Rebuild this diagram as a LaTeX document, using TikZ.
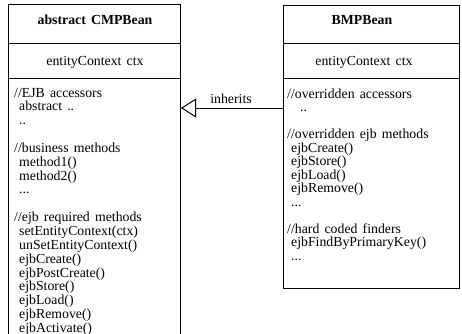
\documentclass[tikz,border=0pt]{standalone}
\usepackage{fontspec}
\setmainfont[WordSpace=1.5]{Liberation Serif}
\usetikzlibrary{arrows.meta}
\begin{document}
\begin{tikzpicture}[x=1pt,y=1pt,
  boxline/.style={line width=1pt,draw=black},
  txt/.style={anchor=base west,inner sep=0pt,font=\fontsize{13.8}{13.5}\selectfont},
  hdr/.style={inner sep=0pt,font=\fontsize{13.8}{13.5}\selectfont\bfseries},
  sub/.style={inner sep=0pt,font=\fontsize{13.8}{13.5}\selectfont}]
\useasboundingbox (0,0) rectangle (462,-333);
\clip (0,0) rectangle (462,-333);
\fill[white] (0,0) rectangle (462,-333);
% left box
\node[boxline,anchor=north west,minimum width=172pt,minimum height=350pt,inner sep=0pt] (lbox) at (8,-4) {};
\draw[boxline] (lbox.west |- 0,-43) -- (lbox.east |- 0,-43);
\draw[boxline] (lbox.west |- 0,-78) -- (lbox.east |- 0,-78);
\node[hdr] (lhead) at (95,-20) {abstract CMPBean};
\node[sub] (lctx) at (95,-62) {entityContext ctx};
% right box
\node[boxline,anchor=north west,minimum width=176pt,minimum height=283pt,inner sep=0pt] (rbox) at (283,-5) {};
\draw[boxline] (rbox.west |- 0,-43) -- (rbox.east |- 0,-43);
\draw[boxline] (rbox.west |- 0,-78) -- (rbox.east |- 0,-78);
\node[hdr] (rhead) at (362,-20) {BMPBean};
\node[sub] (rctx) at (364,-62) {entityContext ctx};
% left text
\foreach \xx/\t [count=\i] in {14/{//EJB accessors},19/{abstract ..},19/{..},14/{},
  14/{//business methods},19/{method1()},19/{method2()},19/{...},14/{},
  14/{//ejb required methods},19/{setEntityContext(ctx)},19/{unSetEntityContext()},
  19/{ejbCreate()},19/{ejbPostCreate()},19/{ejbStore()},19/{ejbLoad()},
  19/{ejbRemove()},19/{ejbActivate()}}
  \node[txt] (lt\i) at (\xx,{-97-(\i-1)*13.85}) {\t};
% right text
\foreach \xx/\t [count=\i] in {287/{//overridden accessors},300/{..},287/{},
  287/{//overridden ejb methods},291/{ejbCreate()},291/{ejbStore()},291/{ejbLoad()},
  291/{ejbRemove()},291/{...},287/{},
  287/{//hard coded finders},291/{ejbFindByPrimaryKey()},291/{...}}
  \node[txt] (rt\i) at (\xx,{-98-(\i-1)*13.5}) {\t};
% inheritance
\coordinate (afrom) at (rbox.west |- 0,-108);
\coordinate (ato) at (lbox.east |- 0,-108);
\draw[line width=1pt,-{Triangle[open,length=15pt,width=19pt,line width=1pt]}] (afrom) -- (ato);
\node[sub] (inh) at (231,-99) {inherits};
\end{tikzpicture}
\end{document}
